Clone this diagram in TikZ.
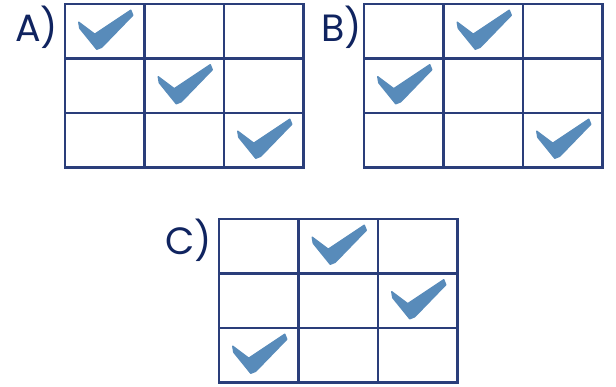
\documentclass[tikz,border=0pt]{standalone}
\usepackage{fontspec}
\setmainfont{Poppins}
\usetikzlibrary{positioning}
\definecolor{gridblue}{RGB}{42,62,122}
\definecolor{tickblue}{RGB}{88,139,186}
\definecolor{labelblue}{RGB}{16,36,96}

\begin{document}
\begin{tikzpicture}[
    x=1pt, y=-1pt,
    gridline/.style={draw=gridblue, line width=2.1pt, line cap=rect},
    choice/.style={font=\fontsize{38}{38}\selectfont, text=labelblue, anchor=base west, inner sep=0pt},
    board/.pic={
        \foreach \i in {0,1,2,3} {
            \draw[gridline] (\i*79.5,0) -- (\i*79.5,163.5);
            \draw[gridline] (0,\i*54.5) -- (238.5,\i*54.5);
        }
    },
    checkmk/.pic={
        \filldraw[tickblue, line width=1.4pt, line join=round] (-26,-9) -- (-10,3) -- (26,-21) -- (28,-16)
            -- (-3,16) -- (-8,18) -- (-25,-3) -- cycle;
    }
]
    \useasboundingbox (0,0) rectangle (616,387);

    % Labels
    \node[choice] (labA) at (15,42) {A)};
    \node[choice] (labB) at (321,42) {B)};
    \node[choice] (labC) at (165,255) {C)};

    % Grids
    \pic (gridA) at (65,4) {board};
    \pic (gridB) at (364,4) {board};
    \pic (gridC) at (219,219) {board};

    % Ticks in A
    \pic (tickA1) at (104.75,31.25) {checkmk};
    \pic (tickA2) at (184.25,85.75) {checkmk};
    \pic (tickA3) at (263.75,140.25) {checkmk};

    % Ticks in B
    \pic (tickB1) at (483.25,31.25) {checkmk};
    \pic (tickB2) at (403.75,85.75) {checkmk};
    \pic (tickB3) at (562.75,140.25) {checkmk};

    % Ticks in C
    \pic (tickC1) at (338.25,246.25) {checkmk};
    \pic (tickC2) at (417.75,300.75) {checkmk};
    \pic (tickC3) at (258.75,355.25) {checkmk};
\end{tikzpicture}
\end{document}
